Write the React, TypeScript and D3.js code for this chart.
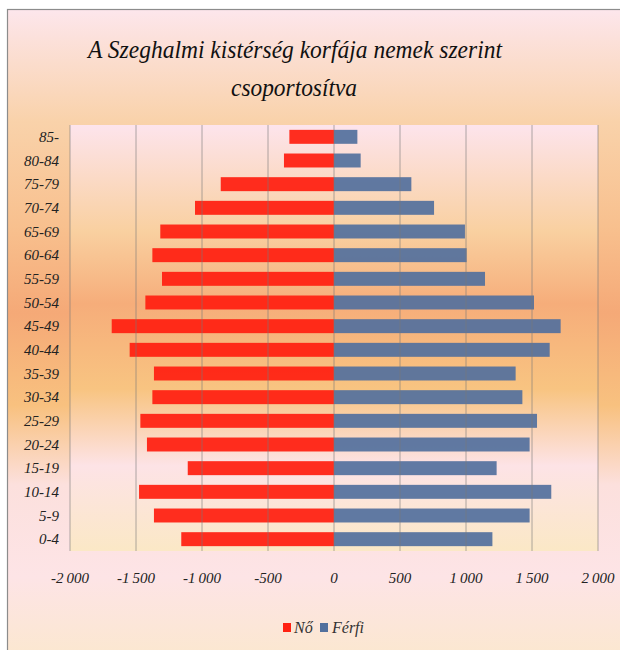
import React from "react";
import * as d3 from "d3";

const categories = ["85-", "80-84", "75-79", "70-74", "65-69", "60-64", "55-59", "50-54", "45-49", "40-44", "35-39", "30-34", "25-29", "20-24", "15-19", "10-14", "5-9", "0-4"];
const femaleValues = [338, 379, 858, 1053, 1316, 1376, 1303, 1429, 1684, 1548, 1364, 1376, 1467, 1417, 1108, 1477, 1364, 1157];
const maleValues = [177, 202, 586, 758, 992, 1005, 1144, 1515, 1717, 1634, 1376, 1427, 1538, 1482, 1232, 1646, 1482, 1200];
const xTicks = [-2000, -1500, -1000, -500, 0, 500, 1000, 1500, 2000];
const xTickLabels = ["-2\u2009000", "-1\u2009500", "-1\u2009000", "-500", "0", "500", "1\u2009000", "1\u2009500", "2\u2009000"];
const seriesNames = ["Nő", "Férfi"];
const titleLines = ["A Szeghalmi kistérség korfája nemek szerint", "csoportosítva"];

const W = 620;
const H = 650;
const plot = { left: 70, right: 598, top: 125, bottom: 551 };
const RED = "#ff2112";
const BLUE = "#52709d";
const FONT = "'Liberation Serif', 'Times New Roman', serif";

export default function App() {
  const x = d3.scaleLinear().domain([-2000, 2000]).range([plot.left, plot.right]);
  const y = d3
    .scaleBand<string>()
    .domain(categories)
    .range([plot.top, plot.bottom])
    .paddingInner(0.41)
    .paddingOuter(0.205);

  const textStyle = { fontFamily: FONT, fontStyle: "italic" as const };

  return (
    <svg
      width={W}
      height={H}
      style={{ position: "absolute", left: 0, top: 0, display: "block" }}
    >
      <defs>
        <linearGradient id="outerGrad" x1="0" y1="0" x2="0" y2="1">
          <stop offset="0" stopColor="#fde6ec" />
          <stop offset="0.17" stopColor="#f9d2aa" />
          <stop offset="0.33" stopColor="#f8c08e" />
          <stop offset="0.46" stopColor="#f5a977" />
          <stop offset="0.6" stopColor="#f8c17f" />
          <stop offset="0.72" stopColor="#fce0dd" />
          <stop offset="0.86" stopColor="#fde4e6" />
          <stop offset="1" stopColor="#fbe8cc" />
        </linearGradient>
        <linearGradient id="plotGrad" x1="0" y1="0" x2="0" y2="1">
          <stop offset="0" stopColor="#fde4ec" />
          <stop offset="0.25" stopColor="#f9d0a0" />
          <stop offset="0.42" stopColor="#f6ad7a" />
          <stop offset="0.62" stopColor="#f8c481" />
          <stop offset="0.8" stopColor="#fde3e6" />
          <stop offset="1" stopColor="#fbe8c6" />
        </linearGradient>
      </defs>

      <rect x={0} y={0} width={W} height={H} fill="#ffffff" />
      <rect
        x={7.5}
        y={9.5}
        width={W + 10}
        height={H + 10}
        fill="url(#outerGrad)"
        stroke="#8c8c8c"
        strokeWidth={1.2}
      />

      {titleLines.map((t, i) => (
        <text
          key={t}
          x={i === 0 ? 295 : 294}
          y={i === 0 ? 58 : 96}
          textAnchor="middle"
          style={textStyle}
          fontSize={26}
          textLength={i === 0 ? 414 : 126}
          lengthAdjust="spacingAndGlyphs"
          fill="#111"
        >
          {t}
        </text>
      ))}

      <rect
        x={plot.left}
        y={plot.top}
        width={plot.right - plot.left}
        height={plot.bottom - plot.top}
        fill="url(#plotGrad)"
      />

      {categories.map((c, i) => (
        <rect
          key={"f" + c}
          x={x(-femaleValues[i])}
          y={y(c)}
          width={x(0) - x(-femaleValues[i])}
          height={y.bandwidth()}
          fill={RED}
          fillOpacity={0.94}
        />
      ))}
      {categories.map((c, i) => (
        <rect
          key={"m" + c}
          x={x(0)}
          y={y(c)}
          width={x(maleValues[i]) - x(0)}
          height={y.bandwidth()}
          fill={BLUE}
          fillOpacity={0.92}
        />
      ))}

      {xTicks.map((t) => (
        <line
          key={"g" + t}
          x1={x(t)}
          x2={x(t)}
          y1={plot.top}
          y2={plot.bottom}
          stroke="#7a7a7a"
          strokeOpacity={0.6}
          strokeWidth={1}
        />
      ))}

      {categories.map((c) => (
        <text
          key={"yl" + c}
          x={59}
          y={(y(c) as number) + y.bandwidth() / 2}
          dy="0.35em"
          textAnchor="end"
          style={textStyle}
          fontSize={15}
          fill="#222"
        >
          {c}
        </text>
      ))}

      {xTicks.map((t, i) => (
        <text
          key={"xl" + t}
          x={x(t)}
          y={583}
          textAnchor="middle"
          style={textStyle}
          fontSize={15}
          fill="#222"
        >
          {xTickLabels[i]}
        </text>
      ))}

      <g>
        <rect x={283} y={623} width={8} height={9} fill={RED} />
        <text x={294} y={633} style={textStyle} fontSize={16} fill="#333">
          {seriesNames[0]}
        </text>
        <rect x={320} y={623} width={8} height={9} fill={BLUE} />
        <text x={332} y={633} style={textStyle} fontSize={16} fill="#333">
          {seriesNames[1]}
        </text>
      </g>
    </svg>
  );
}
